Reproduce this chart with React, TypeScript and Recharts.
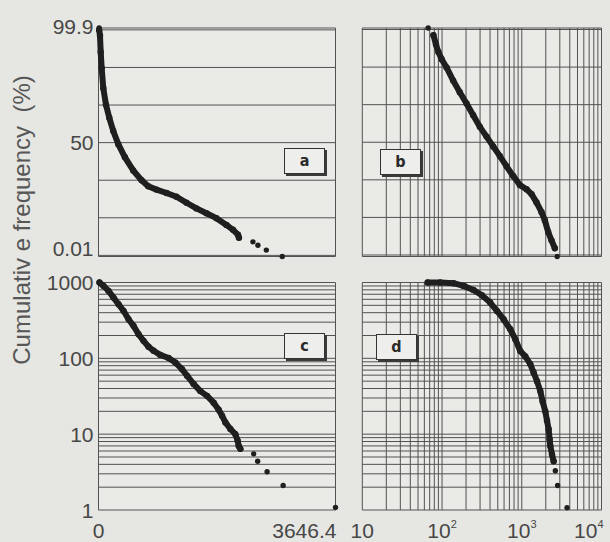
import React from 'react';
import { ScatterChart, Scatter, XAxis, YAxis, CartesianGrid } from 'recharts';

// ---------- tick values / labels ----------
const probTicks = [0, 1, 2, 3, 4, 5, 6];
const probTickLabels = ['0.01', '', '', '50', '', '', '99.9'];
const linTicks = [0, 3646.4];
const linTickLabels = ['0', '3646.4'];
const logXTicks = [
  10, 20, 30, 40, 50, 60, 70, 80, 90,
  100, 200, 300, 400, 500, 600, 700, 800, 900,
  1000, 2000, 3000, 4000, 5000, 6000, 7000, 8000, 9000, 10000,
];
const logXLabelValues = [10, 100, 1000, 10000];
const logXLabelExps = ['', '2', '3', '4'];
const countTicks = [
  1, 2, 3, 4, 5, 6, 7, 8, 9,
  10, 20, 30, 40, 50, 60, 70, 80, 90,
  100, 200, 300, 400, 500, 600, 700, 800, 900, 1000,
];
const countLabelValues = [1, 10, 100, 1000];
const countLabels = ['1', '10', '100', '1000'];

// ---------- panel a : probability (grid units) vs linear value ----------
const aDense = [
  { x: 10, y: 6.0 }, { x: 23, y: 5.85 }, { x: 34, y: 5.41 }, { x: 49, y: 4.98 },
  { x: 74, y: 4.45 }, { x: 115, y: 4.01 }, { x: 166, y: 3.66 }, { x: 227, y: 3.31 },
  { x: 304, y: 2.96 }, { x: 407, y: 2.61 }, { x: 534, y: 2.26 }, { x: 663, y: 2.0 },
  { x: 765, y: 1.84 }, { x: 893, y: 1.75 }, { x: 1047, y: 1.66 }, { x: 1200, y: 1.56 },
  { x: 1354, y: 1.4 }, { x: 1507, y: 1.25 }, { x: 1661, y: 1.12 }, { x: 1814, y: 0.99 },
  { x: 1968, y: 0.81 }, { x: 2070, y: 0.68 }, { x: 2146, y: 0.55 }, { x: 2161, y: 0.47 },
];
const aSparse = [
  { x: 10, y: 6.05 },
  { x: 2376, y: 0.36 }, { x: 2453, y: 0.27 }, { x: 2582, y: 0.14 }, { x: 2827, y: -0.03 },
];

// ---------- panel b : probability (grid units) vs log value ----------
const bDense = [
  { x: 78, y: 5.85 }, { x: 84, y: 5.6 }, { x: 90, y: 5.4 }, { x: 99, y: 5.21 },
  { x: 114, y: 4.99 }, { x: 138, y: 4.64 }, { x: 167, y: 4.33 }, { x: 203, y: 4.03 },
  { x: 246, y: 3.72 }, { x: 298, y: 3.41 }, { x: 362, y: 3.15 }, { x: 438, y: 2.89 },
  { x: 532, y: 2.63 }, { x: 645, y: 2.36 }, { x: 782, y: 2.1 }, { x: 947, y: 1.86 },
  { x: 1148, y: 1.75 }, { x: 1327, y: 1.62 }, { x: 1532, y: 1.4 }, { x: 1771, y: 1.14 },
  { x: 1950, y: 0.92 }, { x: 2145, y: 0.61 }, { x: 2362, y: 0.39 }, { x: 2600, y: 0.18 },
];
const bSparse = [{ x: 67, y: 6.04 }, { x: 2782, y: -0.04 }];

// ---------- panel c : cumulative count (log) vs linear value ----------
const cDense = [
  { x: 15, y: 1000 }, { x: 77, y: 902 }, { x: 154, y: 775 }, { x: 231, y: 632 },
  { x: 308, y: 517 }, { x: 385, y: 423 }, { x: 462, y: 328 }, { x: 539, y: 268 },
  { x: 616, y: 208 }, { x: 693, y: 170 }, { x: 770, y: 142 }, { x: 847, y: 126 },
  { x: 950, y: 111 }, { x: 1078, y: 101 }, { x: 1182, y: 88 }, { x: 1285, y: 72 },
  { x: 1362, y: 59 }, { x: 1463, y: 46 }, { x: 1567, y: 37 }, { x: 1670, y: 32 },
  { x: 1772, y: 26 }, { x: 1849, y: 21 }, { x: 1901, y: 17.5 }, { x: 1952, y: 14.3 },
  { x: 2029, y: 11.7 }, { x: 2106, y: 10 }, { x: 2141, y: 8.2 }, { x: 2157, y: 7 },
  { x: 2183, y: 6.4 },
];
const cSparse = [
  { x: 2388, y: 5.5 }, { x: 2449, y: 4.4 }, { x: 2594, y: 3.2 }, { x: 2841, y: 2.1 },
  { x: 3646.4, y: 1.08 },
];

// ---------- panel d : cumulative count (log) vs log value ----------
const dDense = [
  { x: 66, y: 1000 }, { x: 95, y: 1000 }, { x: 139, y: 979 }, { x: 186, y: 902 },
  { x: 248, y: 798 }, { x: 316, y: 679 }, { x: 402, y: 544 }, { x: 488, y: 422 },
  { x: 591, y: 328 }, { x: 717, y: 242 }, { x: 829, y: 179 }, { x: 957, y: 125 },
  { x: 1107, y: 106 }, { x: 1279, y: 84 }, { x: 1407, y: 65 }, { x: 1552, y: 50 },
  { x: 1708, y: 37 }, { x: 1826, y: 27 }, { x: 1974, y: 20 }, { x: 2073, y: 15 },
  { x: 2173, y: 11.6 }, { x: 2234, y: 8.6 }, { x: 2280, y: 7.0 }, { x: 2394, y: 5.4 },
  { x: 2511, y: 4.4 },
];
const dSparse = [{ x: 2636, y: 3.3 }, { x: 2817, y: 2.1 }, { x: 3699, y: 1.07 }];

// ---------- styles ----------
const INK = '#1f1f1f';
const GRID = '#525252';
const TXT = '#474747';
const BG = '#e6e6e2';
const PLOT_BG = '#eaeae7';
const FONT = '"Liberation Sans", Arial, Helvetica, sans-serif';
const TICK_FS = 21;

const denseDot = (p: any) => <circle cx={p.cx} cy={p.cy} r={3.2} fill={INK} />;
const sparseDot = (p: any) => <circle cx={p.cx} cy={p.cy} r={2.7} fill={INK} />;
const empty = () => <g />;

const probYTick = (p: any) => {
  const v = p.payload.value;
  const s = probTickLabels[probTicks.indexOf(v)];
  if (!s) return <g />;
  const adj = v === 0 ? -7 : v === 6 ? -3 : 0;
  return (
    <text x={p.x} y={p.y + adj} dy="0.36em" textAnchor="end" fontSize={TICK_FS} fill={TXT} fontFamily={FONT}>
      {s}
    </text>
  );
};

const countYTick = (p: any) => {
  const i = countLabelValues.indexOf(p.payload.value);
  if (i < 0) return <g />;
  return (
    <text x={p.x} y={p.y} dy="0.36em" textAnchor="end" fontSize={TICK_FS} fill={TXT} fontFamily={FONT}>
      {countLabels[i]}
    </text>
  );
};

const linXTick = (p: any) => {
  const i = linTicks.indexOf(p.payload.value);
  if (i < 0) return <g />;
  const last = i === linTicks.length - 1;
  return (
    <text x={last ? p.x + 1 : p.x} y={p.y + 28} textAnchor={last ? 'end' : 'middle'} fontSize={TICK_FS} fill={TXT} fontFamily={FONT}>
      {linTickLabels[i]}
    </text>
  );
};

const logXTick = (p: any) => {
  const i = logXLabelValues.indexOf(p.payload.value);
  if (i < 0) return <g />;
  const last = i === logXLabelValues.length - 1;
  const exp = logXLabelExps[i];
  return (
    <text x={last ? p.x + 2 : p.x} y={p.y + 28} textAnchor={last ? 'end' : 'middle'} fontSize={TICK_FS} fill={TXT} fontFamily={FONT}>
      <tspan>10</tspan>
      {exp ? <tspan fontSize={11} dy={-10}>{exp}</tspan> : null}
    </text>
  );
};

type PanelProps = {
  left: number; top: number; width: number; height: number;
  margin: { top: number; right: number; bottom: number; left: number };
  yWidth: number; xHeight: number;
  xLog: boolean; yLog: boolean;
  dense: { x: number; y: number }[]; sparse: { x: number; y: number }[];
  xTick: any; yTick: any;
};

function Panel(props: PanelProps) {
  const { left, top, width, height, margin, yWidth, xHeight, xLog, yLog, dense, sparse, xTick, yTick } = props;
  return (
    <div style={{ position: 'absolute', left, top, width, height }}>
      <ScatterChart width={width} height={height} margin={margin} style={{ overflow: 'visible' }}>
        <CartesianGrid stroke={GRID} strokeWidth={1} fill={PLOT_BG} />
        <XAxis
          type="number"
          dataKey="x"
          scale={xLog ? 'log' : 'linear'}
          domain={xLog ? [10, 10000] : [0, 3646.4]}
          ticks={xLog ? logXTicks : linTicks}
          interval={0}
          height={xHeight}
          axisLine={false}
          tickLine={false}
          tickSize={0}
          tickMargin={0}
          tick={xTick}
        />
        <YAxis
          type="number"
          dataKey="y"
          scale={yLog ? 'log' : 'linear'}
          domain={yLog ? [1, 1000] : [0, 6]}
          ticks={yLog ? countTicks : probTicks}
          interval={0}
          width={yWidth}
          axisLine={false}
          tickLine={false}
          tickSize={0}
          tickMargin={5}
          tick={yTick}
        />
        <Scatter
          data={dense}
          isAnimationActive={false}
          line={{ stroke: INK, strokeWidth: 6, strokeLinejoin: 'round', strokeLinecap: 'round' }}
          lineType="joint"
          shape={denseDot}
        />
        <Scatter data={sparse} isAnimationActive={false} shape={sparseDot} />
      </ScatterChart>
    </div>
  );
}

const boxStyle = (left: number, top: number): React.CSSProperties => ({
  position: 'absolute',
  left,
  top,
  width: 39,
  height: 24,
  border: '1.5px solid #333',
  boxShadow: '2px 2px 0 #3a3a3a',
  background: '#eeeeec',
  display: 'flex',
  alignItems: 'center',
  justifyContent: 'center',
  fontFamily: '"DejaVu Sans Condensed", "Liberation Sans Narrow", "Roboto Condensed", "DejaVu Sans", sans-serif',
  fontWeight: 700,
  fontSize: 16,
  color: '#2a2a2a',
  lineHeight: 1,
});

export default function App() {
  return (
    <div style={{ position: 'absolute', left: 0, top: 0, width: 610, height: 542, background: BG, overflow: 'hidden' }}>
      <Panel
        left={0} top={0} width={340} height={270}
        margin={{ top: 28, right: 4.5, bottom: 13.5, left: 0 }}
        yWidth={98.5} xHeight={0}
        xLog={false} yLog={false}
        dense={aDense} sparse={aSparse}
        xTick={empty} yTick={probYTick}
      />
      <Panel
        left={340} top={0} width={270} height={270}
        margin={{ top: 28, right: 8.5, bottom: 13.5, left: 22.3 }}
        yWidth={0} xHeight={0}
        xLog={true} yLog={false}
        dense={bDense} sparse={bSparse}
        xTick={empty} yTick={empty}
      />
      <Panel
        left={0} top={270} width={340} height={272}
        margin={{ top: 12.5, right: 4.5, bottom: 0, left: 0 }}
        yWidth={98.5} xHeight={32}
        xLog={false} yLog={true}
        dense={cDense} sparse={cSparse}
        xTick={linXTick} yTick={countYTick}
      />
      <Panel
        left={340} top={270} width={270} height={272}
        margin={{ top: 12.5, right: 8.5, bottom: 0, left: 22.3 }}
        yWidth={0} xHeight={32}
        xLog={true} yLog={true}
        dense={dDense} sparse={dSparse}
        xTick={logXTick} yTick={empty}
      />
      <div style={boxStyle(284, 148)}>a</div>
      <div style={boxStyle(380, 149)}>b</div>
      <div style={boxStyle(284, 333)}>c</div>
      <div style={boxStyle(376, 334)}>d</div>
      <svg width={610} height={542} style={{ position: 'absolute', left: 0, top: 0, pointerEvents: 'none' }}>
        <text
          x={30}
          y={220}
          transform="rotate(-90 30 220)"
          textAnchor="middle"
          fontSize={24}
          fill="#575757"
          fontFamily={FONT}
          style={{ whiteSpace: 'pre' }}
        >
          {'Cumulativ e frequency  (%)'}
        </text>
      </svg>
    </div>
  );
}
